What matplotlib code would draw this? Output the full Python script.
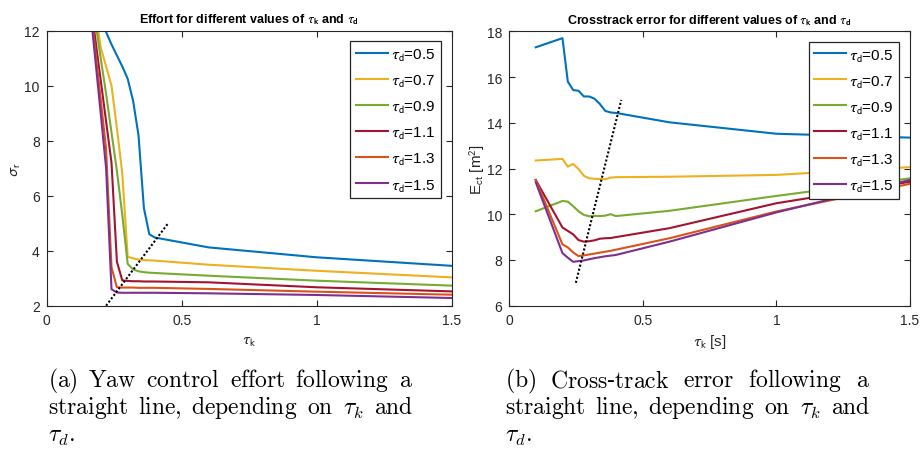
import matplotlib
matplotlib.use("Agg")
import matplotlib.pyplot as plt

plt.rcParams["font.family"] = ["Liberation Sans", "DejaVu Sans"]
plt.rcParams["mathtext.fontset"] = "stixsans"

# ==============================================================
# Data
# ==============================================================
tau_k = [0.1, 0.2, 0.22, 0.24, 0.26, 0.28, 0.30, 0.32, 0.34, 0.36, 0.38, 0.40,
         0.6, 1.0, 1.5]
tau_d_labels = ["0.5", "0.7", "0.9", "1.1", "1.3", "1.5"]
colors = ["#0072BD", "#EDB120", "#77AC30", "#A2142F", "#D95319", "#7E2F8E"]

# (a) control effort sigma_r
effort_05 = [20.0, 12.8, 11.95, 11.5, 11.1, 10.7, 10.25, 9.45, 8.2, 5.55, 4.6, 4.48,
             4.12, 3.76, 3.45]
effort_07 = [18.0, 11.4, 10.7, 10.0, 8.45, 6.8, 3.78, 3.72, 3.68, 3.66, 3.65, 3.64,
             3.49, 3.27, 3.03]
effort_09 = [17.7, 11.0, 9.7, 8.3, 6.9, 5.3, 3.52, 3.32, 3.25, 3.22, 3.2, 3.19,
             3.09, 2.91, 2.73]
effort_11 = [17.7, 10.2, 8.7, 7.2, 3.6, 2.92, 2.9, 2.89, 2.89, 2.88, 2.88, 2.88,
             2.85, 2.67, 2.52]
effort_13 = [18.4, 9.5, 7.7, 3.4, 2.67, 2.66, 2.66, 2.66, 2.65, 2.65, 2.65, 2.65,
             2.61, 2.51, 2.40]
effort_15 = [18.8, 9.0, 7.0, 2.6, 2.48, 2.47, 2.47, 2.47, 2.47, 2.47, 2.47, 2.47,
             2.45, 2.39, 2.28]
effort = [effort_05, effort_07, effort_09, effort_11, effort_13, effort_15]

# (b) cross-track error E_ct
ect_05 = [17.3, 17.7, 15.8, 15.43, 15.4, 15.15, 15.15, 15.05, 14.82, 14.52, 14.45, 14.43,
          14.02, 13.52, 13.35]
ect_07 = [12.35, 12.42, 12.08, 12.2, 11.98, 11.68, 11.57, 11.55, 11.54, 11.53, 11.6, 11.62,
          11.64, 11.72, 12.06]
ect_09 = [10.13, 10.58, 10.55, 10.35, 10.13, 9.97, 9.91, 9.93, 9.92, 9.94, 10.0, 9.92,
          10.15, 10.8, 11.57]
ect_11 = [11.5, 9.42, 9.27, 9.12, 8.87, 8.8, 8.82, 8.86, 8.93, 8.95, 8.96, 9.0,
          9.39, 10.48, 11.42]
ect_13 = [11.5, 8.68, 8.55, 8.33, 8.17, 8.2, 8.24, 8.28, 8.32, 8.36, 8.4, 8.45,
          8.95, 10.12, 11.33]
ect_15 = [11.4, 8.3, 8.1, 7.92, 7.95, 7.98, 8.03, 8.08, 8.12, 8.16, 8.19, 8.22,
          8.8, 10.08, 11.5]
ect = [ect_05, ect_07, ect_09, ect_11, ect_13, ect_15]

# dotted guide lines
guide_a_x = [0.22, 0.45]
guide_a_y = [2.0, 5.0]
guide_b_x = [0.25, 0.42]
guide_b_y = [7.0, 15.0]

# ==============================================================
# Figure
# ==============================================================
W, H = 922, 452
fig = plt.figure(figsize=(W / 100, H / 100), dpi=100)

dark = "#262626"


def style_axes(ax):
    ax.tick_params(direction="in", top=True, right=True, length=4, width=0.8,
                   labelsize=10, colors=dark, labelcolor=dark, pad=5)
    for s in ax.spines.values():
        s.set_color(dark)
        s.set_linewidth(0.8)


def add_legend(ax, w_ax, h_ax):
    leg = ax.legend(loc="upper right", bbox_to_anchor=(1 - 11 / w_ax, 1 - 10.5 / h_ax),
                    borderaxespad=0, fontsize=11, handlelength=2.1,
                    handletextpad=0.2, labelspacing=0.7, borderpad=0.35,
                    fancybox=False, framealpha=1)
    leg.get_frame().set_edgecolor(dark)
    leg.get_frame().set_linewidth(0.9)


# ---------------- (a) ----------------
ax1 = fig.add_axes([46.7 / W, 1 - 306.7 / H, 405 / W, 275 / H])
for vals, c, lab in zip(effort, colors, tau_d_labels):
    ax1.plot(tau_k, vals, color=c, lw=1.5, label=r"$\tau_{\mathrm{d}}$=" + lab)
ax1.plot(guide_a_x, guide_a_y, color="black", ls=(0, (1, 1)), lw=1.5)
ax1.set_xlim(0, 1.5)
ax1.set_ylim(2, 12)
ax1.set_xticks([0, 0.5, 1, 1.5])
ax1.set_xticklabels(["0", "0.5", "1", "1.5"])
ax1.set_yticks([2, 4, 6, 8, 10, 12])
style_axes(ax1)
ax1.set_xlabel(r"$\tau_{\mathrm{k}}$", fontsize=11, color=dark, labelpad=5)
ax1.set_ylabel(r"$\sigma_{\mathrm{r}}$", fontsize=11, color=dark, labelpad=1)
ax1.set_title(r"Effort for different values of $\tau_{\mathbf{k}}$ and $\tau_{\mathbf{d}}$",
              fontsize=9, fontweight="bold", pad=6)
add_legend(ax1, 405, 275)

# ---------------- (b) ----------------
ax2 = fig.add_axes([509 / W, 1 - 306.7 / H, 401 / W, 274.4 / H])
for vals, c, lab in zip(ect, colors, tau_d_labels):
    ax2.plot(tau_k, vals, color=c, lw=1.5, label=r"$\tau_{\mathrm{d}}$=" + lab)
ax2.plot(guide_b_x, guide_b_y, color="black", ls=(0, (1, 1)), lw=1.5)
ax2.set_xlim(0, 1.5)
ax2.set_ylim(6, 18)
ax2.set_xticks([0, 0.5, 1, 1.5])
ax2.set_xticklabels(["0", "0.5", "1", "1.5"])
ax2.set_yticks([6, 8, 10, 12, 14, 16, 18])
style_axes(ax2)
ax2.set_xlabel(r"$\tau_{\mathrm{k}}$ [s]", fontsize=11, color=dark, labelpad=4)
ax2.set_ylabel(r"E$_{\mathrm{ct}}$ [m$^2$]", fontsize=11, color=dark, labelpad=0)
ax2.set_title(r"Crosstrack error for different values of $\tau_{\mathbf{k}}$ and $\tau_{\mathbf{d}}$",
              fontsize=9, fontweight="bold", pad=6)
add_legend(ax2, 401, 274.4)

# ==============================================================
# Captions (LaTeX-like serif, justified)
# ==============================================================
cap_size = 17
cap_width = 365
captions = [
    (48, [[r"$\mathrm{(a)}$", r"$\mathrm{Yaw}$", r"$\mathrm{control}$", r"$\mathrm{effort}$",
           r"$\mathrm{following}$", r"$\mathrm{a}$"],
          [r"$\mathrm{straight}$", r"$\mathrm{line,}$", r"$\mathrm{depending}$", r"$\mathrm{on}$",
           r"$\tau_k$", r"$\mathrm{and}$"],
          [r"$\tau_d.$"]]),
    (505, [[r"$\mathrm{(b)}$", r"$\mathrm{Cross}$-$\mathrm{track}$", r"$\mathrm{error}$",
            r"$\mathrm{following}$", r"$\mathrm{a}$"],
           [r"$\mathrm{straight}$", r"$\mathrm{line,}$", r"$\mathrm{depending}$", r"$\mathrm{on}$",
            r"$\tau_k$", r"$\mathrm{and}$"],
           [r"$\tau_d.$"]]),
]
baselines = [387, 414.5, 442]
renderer = fig.canvas.get_renderer()
for x0, lines in captions:
    for yb, words in zip(baselines, lines):
        texts = [fig.text(0, 0, w, fontsize=cap_size, math_fontfamily="cm",
                          family="DejaVu Serif", ha="left", va="baseline", color="black")
                 for w in words]
        widths = [t.get_window_extent(renderer).width for t in texts]
        if len(words) > 1:
            gap = (cap_width - sum(widths)) / (len(words) - 1)
        else:
            gap = 0
        x = x0
        for t, w in zip(texts, widths):
            t.set_position((x / W, 1 - yb / H))
            x += w + gap

fig.savefig("out.png", dpi=100)
